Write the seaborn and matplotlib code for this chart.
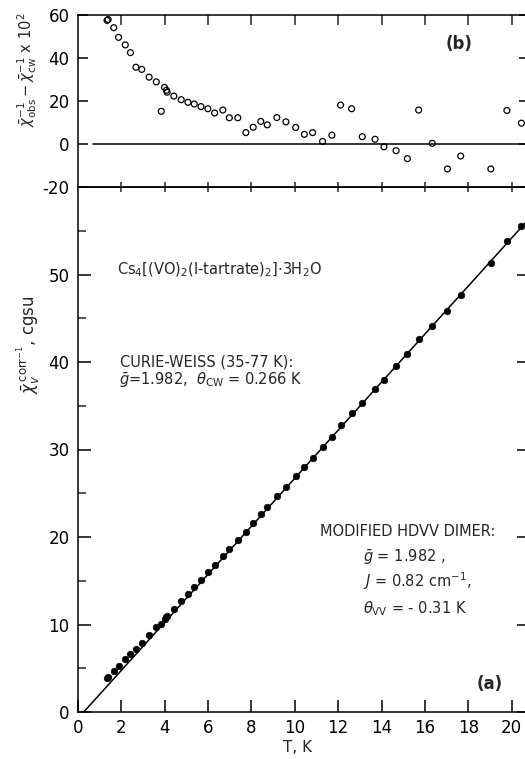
import numpy as np
import pandas as pd
import matplotlib
matplotlib.use("Agg")
import matplotlib.pyplot as plt
import seaborn as sns
from matplotlib.ticker import FixedLocator

# ---------------- data ----------------
T = [1.34, 1.39, 1.65, 1.87, 2.18, 2.42, 2.67, 2.94, 3.28, 3.61, 3.84, 3.99,
     4.08, 4.11, 4.42, 4.76, 5.07, 5.36, 5.67, 5.99, 6.30, 6.68, 6.98, 7.37,
     7.74, 8.08, 8.43, 8.73, 9.17, 9.59, 10.04, 10.44, 10.82, 11.28, 11.71,
     12.11, 12.62, 13.11, 13.70, 14.11, 14.67, 15.19, 15.71, 16.34, 17.04,
     17.65, 19.04, 19.78, 20.45]

# panel (b): (chi_obs^-1 - chi_cw^-1) x 10^2
resid = [57.5, 57.9, 54.1, 49.6, 46.1, 42.5, 35.7, 34.7, 31.1, 28.9, 15.2, 26.3,
         25.0, 24.1, 22.3, 20.6, 19.4, 18.6, 17.4, 16.4, 14.4, 15.8, 12.2, 12.2,
         5.3, 7.8, 10.5, 8.9, 12.3, 10.3, 7.7, 4.5, 5.3, 1.2, 4.1,
         18.1, 16.4, 3.4, 2.2, -1.3, -3.1, -6.8, 15.8, 0.3, -11.6,
         -5.6, -11.6, 15.6, 9.7]

# panel (a): chi_v^corr -1, cgsu
chi_inv = [3.91, 4.05, 4.70, 5.23, 6.02, 6.62, 7.20, 7.92, 8.79, 9.66, 10.06, 10.66,
           10.89, 10.95, 11.77, 12.68, 13.51, 14.29, 15.12, 15.98, 16.80, 17.87, 18.63, 19.70,
           20.61, 21.58, 22.59, 23.38, 24.65, 25.76, 26.96, 28.01, 29.06, 30.25, 31.48,
           32.81, 34.18, 35.32, 36.92, 37.98, 39.49, 40.86, 42.65, 44.13, 45.85,
           47.63, 51.34, 53.83, 55.57]

# Curie-Weiss fit line parameters
theta_cw = 0.266
curie_C = 0.3643
T_max = 20.8
zero_line_start = 0.7

x_ticks = [0, 2, 4, 6, 8, 10, 12, 14, 16, 18, 20]
ya_ticks = [0, 10, 20, 30, 40, 50]
ya_minor = [5, 15, 25, 35, 45, 55]
yb_ticks = [-20, 0, 20, 40, 60]

# ---------------- styling ----------------
sns.set_theme(style="ticks")
plt.rcParams['font.family'] = ['DejaVu Sans']
plt.rcParams['mathtext.fontset'] = 'dejavusans'
plt.rcParams['axes.unicode_minus'] = False
plt.rcParams['axes.linewidth'] = 1.1
plt.rcParams['xtick.major.width'] = 1.1
plt.rcParams['ytick.major.width'] = 1.1
plt.rcParams['ytick.minor.width'] = 1.1


def mt_ok(s):
    try:
        from matplotlib.mathtext import MathTextParser
        MathTextParser('path').parse(s)
        return True
    except Exception:
        return False


UL = mt_ok(r"$\underline{g}$")
gsym = r"$\underline{\bar{g}}$" if UL else r"$\bar{g}$"
Jsym = r"$\underline{J}$" if UL else r"$J$"
lsym = r"$\underline{\mathrm{l}}$" if UL else "l"

fig = plt.figure(figsize=(5.25, 7.59), dpi=100)
W, H = 525.0, 759.0
left_px, right_px = 78, 529
ax_a = fig.add_axes([left_px / W, 47 / H, (right_px - left_px) / W, 525 / H])
ax_b = fig.add_axes([left_px / W, (H - 187) / H, (right_px - left_px) / W, 172 / H])

df = pd.DataFrame({"T": T, "resid": resid, "chi": chi_inv})

# ---- panel (a)
T_line = np.array([theta_cw, T_max])
chi_line = (T_line - theta_cw) / curie_C
sns.lineplot(x=T_line, y=chi_line, color="black", lw=1.1, ax=ax_a)
sns.scatterplot(data=df, x="T", y="chi", s=22, color="black", edgecolor="black",
                linewidth=0.5, ax=ax_a, zorder=3)
ax_a.set_xlim(0, T_max)
ax_a.set_ylim(0, 60)
ax_a.xaxis.set_major_locator(FixedLocator(x_ticks))
ax_a.yaxis.set_major_locator(FixedLocator(ya_ticks))
ax_a.yaxis.set_minor_locator(FixedLocator(ya_minor))
ax_a.tick_params(axis="x", which="major", direction="in", length=9, bottom=True,
                 top=False, labelsize=12, pad=5, colors="black")
ax_a.tick_params(axis="y", which="major", direction="in", length=9, left=True,
                 right=True, labelsize=12, pad=6, colors="black")
ax_a.tick_params(axis="y", which="minor", direction="in", length=5.5, left=True,
                 right=False)
sec_a = ax_a.secondary_xaxis("top")
sec_a.set_xticks(x_ticks[1:])
sec_a.tick_params(direction="in", length=3.5, labeltop=False, width=1.1)
ax_a.set_xlabel("")
ax_a.set_ylabel("")

# ---- panel (b)
sns.lineplot(x=[zero_line_start, T_max], y=[0, 0], color="black", lw=1.1, ax=ax_b)
sns.scatterplot(data=df, x="T", y="resid", s=18, facecolor="none", edgecolor="black",
                linewidth=0.9, ax=ax_b, zorder=3)
ax_b.set_xlim(0, T_max)
ax_b.set_ylim(-20, 60)
ax_b.xaxis.set_major_locator(FixedLocator(x_ticks[1:]))
ax_b.yaxis.set_major_locator(FixedLocator(yb_ticks))
ax_b.tick_params(axis="x", which="major", direction="in", length=7, bottom=False,
                 top=True, labelbottom=False, labeltop=False)
ax_b.tick_params(axis="y", which="major", direction="in", length=7, left=True,
                 right=True, labelsize=12, pad=6, colors="black")
sec_b = ax_b.secondary_xaxis("bottom")
sec_b.set_xticks(x_ticks[1:])
sec_b.tick_params(direction="in", length=3.5, labelbottom=False, width=1.1)
ax_b.set_xlabel("")
ax_b.set_ylabel("")

for ax in (ax_a, ax_b):
    for sp in ax.spines.values():
        sp.set_visible(True)
        sp.set_color("black")
        sp.set_linewidth(1.1)

# ---- texts
fs = 10.5
ax_a.text(1.8, 50.5, r"Cs$_4$[(VO)$_2$(" + lsym + r"-tartrate)$_2$]$\cdot$3H$_2$O",
          fontsize=fs, va="center", ha="left")
ax_a.text(1.94, 40.0, "CURIE-WEISS (35-77 K):", fontsize=fs, va="center", ha="left")
ax_a.text(1.9, 37.9, gsym + r"=1.982,  $\theta_{\rm CW}$ = 0.266 K", fontsize=fs,
          va="center", ha="left")
ax_a.text(11.15, 20.6, "MODIFIED HDVV DIMER:", fontsize=fs, va="center", ha="left")
ax_a.text(13.13, 17.7, gsym + " = 1.982 ,", fontsize=fs, va="center", ha="left")
ax_a.text(13.13, 14.9, Jsym + r" = 0.82 cm$^{-1}$,", fontsize=fs, va="center", ha="left")
ax_a.text(13.13, 11.8, r"$\theta_{\rm VV}$ = - 0.31 K", fontsize=fs, va="center", ha="left")
ax_a.text(18.99, 3.2, "(a)", fontsize=12, fontweight="bold", va="center", ha="center")
ax_b.text(17.56, 46.5, "(b)", fontsize=12, fontweight="bold", va="center", ha="center")

fig.text(298 / W, 1 - 748 / H, "T, K", fontsize=11, ha="center", va="center")
fig.text(27 / W, 1 - 70 / H,
         r"$\bar{\chi}^{-1}_{\rm obs} - \bar{\chi}^{-1}_{\rm cw}$ x 10$^2$",
         fontsize=10.5, rotation=90, ha="center", va="center")
fig.text(29 / W, 1 - 345 / H, r"$\bar{\chi}_v^{\,\rm corr^{-1}}$, cgsu",
         fontsize=12, rotation=90, ha="center", va="center")

fig.savefig("out.png", dpi=100)
